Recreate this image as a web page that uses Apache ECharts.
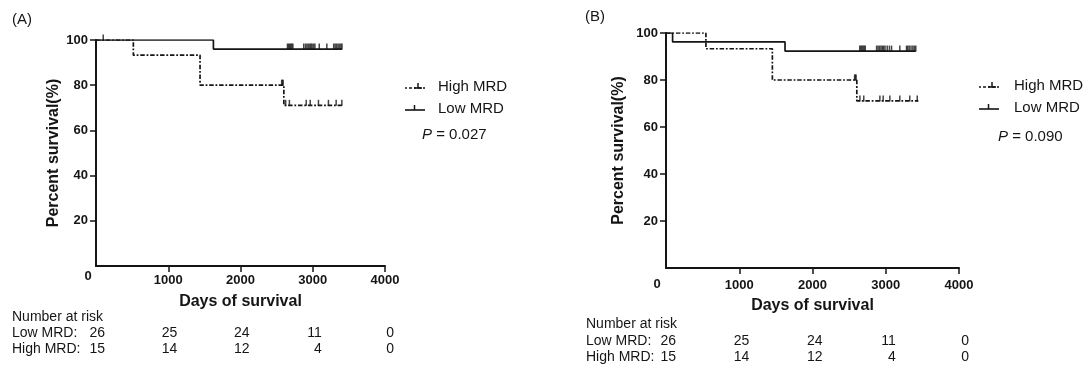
<!DOCTYPE html>
<html><head><meta charset="utf-8">
<script src="https://cdn.jsdelivr.net/npm/echarts@6/dist/echarts.min.js"></script>
<style>html,body{margin:0;padding:0;background:#fff}#c{width:1087px;height:366px}</style>
</head><body><div id="c"></div>
<script>
// ---------- data ----------
const xTicks = [0, 1000, 2000, 3000, 4000];
const yTicks = [20, 40, 60, 80, 100];
const groupNames = ['High MRD', 'Low MRD'];
const riskRowLabels = ['Low MRD:', 'High MRD:'];
const riskTitle = 'Number at risk';

// Panel A
const aLowSteps  = [[0, 100], [1625, 96.0], [3405, 96.0]];
const aLowCensor = [100, 2650, 2665, 2680, 2695, 2710, 2725, 2875, 2900, 2920, 2940, 2960, 2975, 2990,
                    3010, 3030, 3090, 3195, 3290, 3310, 3330, 3350, 3370, 3390, 3405];
const aHighSteps  = [[0, 100], [517, 93.3], [1440, 80.0], [2600, 71.1], [3403, 71.1]];
const aHighCensor = [2570, 2580, 2590, 2625, 2677, 2910, 2965, 3079, 3217, 3324, 3403];
const aRiskLow  = [26, 25, 24, 11, 0];
const aRiskHigh = [15, 14, 12, 4, 0];
const aPValue = '0.027';

// Panel B
const bLowSteps  = [[0, 100], [90, 96.2], [1625, 92.3], [3410, 92.3]];
const bLowCensor = [2645, 2660, 2675, 2690, 2705, 2720, 2875, 2895, 2915, 2935, 2955, 2970, 2990,
                    3020, 3050, 3079, 3192, 3283, 3300, 3320, 3345, 3370, 3390, 3410];
const bHighSteps  = [[0, 100], [545, 93.3], [1452, 80.0], [2605, 71.1], [3445, 71.1]];
const bHighCensor = [2575, 2585, 2595, 2647, 2700, 2920, 2965, 3056, 3192, 3328, 3430];
const bRiskLow  = [26, 25, 24, 11, 0];
const bRiskHigh = [15, 14, 12, 4, 0];
const bPValue = '0.090';

const panelLabels = ['(A)', '(B)'];
const xAxisTitle = 'Days of survival';
const yAxisTitle = 'Percent survival(%)';

// ---------- layout / style ----------
const FONT = '"Liberation Sans", Arial, Helvetica, sans-serif';
const INK = '#151515';
const DASH = [4.5, 1.8, 1.8, 1.8];
const layout = [
  {grid: {left: 96, top: 40, width: 289, height: 226}, labelMargin: 8, nameGapY: 34, nameGapX: 28,
   tagPos: [12, 20], riskDy: [50.7, 67, 83], riskLeft: 12, numDx: 9, zeroD: [-8, 10],
   legIconX: 405, legTextX: 438, legY: [87, 109], pPos: [422, 135]},
  {grid: {left: 666, top: 33, width: 293, height: 235}, labelMargin: 11, nameGapY: 39, nameGapX: 30,
   tagPos: [585, 17], riskDy: [56.3, 73, 89.3], riskLeft: 586, numDx: 10, zeroD: [-9, 16],
   legIconX: 979, legTextX: 1014, legY: [86, 108], pPos: [998, 137]}
];
const panels = [
  {low: aLowSteps, lowC: aLowCensor, high: aHighSteps, highC: aHighCensor, rLow: aRiskLow, rHigh: aRiskHigh, p: aPValue},
  {low: bLowSteps, lowC: bLowCensor, high: bHighSteps, highC: bHighCensor, rLow: bRiskLow, rHigh: bRiskHigh, p: bPValue}
];

function levelAt(steps, t) {
  let v = steps[0][1];
  for (const s of steps) { if (s[0] <= t) v = s[1]; }
  return v;
}

const grids = [], xAxes = [], yAxes = [], series = [];
layout.forEach((L, i) => {
  grids.push(Object.assign({containLabel: false}, L.grid));
  xAxes.push({
    type: 'value', gridIndex: i, min: xTicks[0], max: xTicks[xTicks.length - 1], interval: xTicks[1] - xTicks[0],
    name: xAxisTitle, nameLocation: 'middle', nameGap: L.nameGapX,
    nameTextStyle: {fontFamily: FONT, fontWeight: 'bold', fontSize: 16, color: INK},
    axisLine: {onZero: false, lineStyle: {color: INK, width: 2}},
    axisTick: {length: 6, lineStyle: {color: INK, width: 1.5}},
    axisLabel: {showMinLabel: false, margin: L.labelMargin, fontFamily: FONT, fontWeight: 'bold', fontSize: 13, color: INK,
      formatter: v => String(v)},
    splitLine: {show: false}
  });
  yAxes.push({
    type: 'value', gridIndex: i, min: 0, max: yTicks[yTicks.length - 1], interval: yTicks[1] - yTicks[0],
    name: yAxisTitle, nameLocation: 'middle', nameGap: L.nameGapY,
    nameTextStyle: {fontFamily: FONT, fontWeight: 'bold', fontSize: 16, color: INK},
    axisLine: {onZero: false, lineStyle: {color: INK, width: 2}},
    axisTick: {length: 6, lineStyle: {color: INK, width: 1.5}},
    axisLabel: {showMinLabel: false, margin: 8, fontFamily: FONT, fontWeight: 'bold', fontSize: 13, color: INK,
      formatter: v => String(v)},
    splitLine: {show: false}
  });
  const P = panels[i];
  const defs = [
    {name: groupNames[0], steps: P.high, cens: P.highC, type: DASH},
    {name: groupNames[1], steps: P.low, cens: P.lowC, type: 'solid'}
  ];
  defs.forEach(d => {
    series.push({
      type: 'line', name: d.name, xAxisIndex: i, yAxisIndex: i, step: 'end', showSymbol: false, silent: true,
      data: d.steps, lineStyle: {color: INK, width: 1.7, type: d.type}, animation: false
    });
    series.push({
      type: 'scatter', name: d.name, xAxisIndex: i, yAxisIndex: i, silent: true, animation: false,
      symbol: 'rect', symbolSize: [1.5, 6], symbolOffset: [0, -2.5],
      itemStyle: {color: INK},
      data: d.cens.map(t => [t, levelAt(d.steps, t)])
    });
  });
});

const chart = echarts.init(document.getElementById('c'), null, {renderer: 'canvas'});
chart.setOption({
  backgroundColor: '#fff', animation: false,
  grid: grids, xAxis: xAxes, yAxis: yAxes, series: series
});

// ---------- text elements placed from the axes ----------
const g = [];
function txt(x, y, s, opt) {
  g.push({type: 'text', silent: true, style: Object.assign({
    x: x, y: y, text: s, fill: INK, font: '14px ' + FONT, textAlign: 'left', textVerticalAlign: 'middle'
  }, opt || {})});
}
layout.forEach((L, i) => {
  const P = panels[i];
  const org = chart.convertToPixel({gridIndex: i}, [xTicks[0], 0]);
  txt(L.tagPos[0], L.tagPos[1], panelLabels[i], {font: '15px ' + FONT});
  txt(org[0] + L.zeroD[0], org[1] + L.zeroD[1], String(xTicks[0]), {font: 'bold 13px ' + FONT, textAlign: 'center'});
  txt(L.riskLeft, org[1] + L.riskDy[0], riskTitle);
  txt(L.riskLeft, org[1] + L.riskDy[1], riskRowLabels[0]);
  txt(L.riskLeft, org[1] + L.riskDy[2], riskRowLabels[1]);
  xTicks.forEach((t, k) => {
    const px = chart.convertToPixel({gridIndex: i}, [t, 0])[0];
    txt(px + L.numDx, org[1] + L.riskDy[1], String(P.rLow[k]), {textAlign: 'right'});
    txt(px + L.numDx, org[1] + L.riskDy[2], String(P.rHigh[k]), {textAlign: 'right'});
  });
  [0, 1].forEach(k => {
    const y = L.legY[k] + 1;
    const x0 = L.legIconX;
    g.push({type: 'line', silent: true, shape: {x1: x0, y1: y, x2: x0 + 20, y2: y},
      style: {stroke: INK, lineWidth: 1.6, lineDash: k === 0 ? [2, 2, 3, 2] : null}});
    const tx = k === 0 ? x0 + 13 : x0 + 9.5;
    g.push({type: 'line', silent: true, shape: {x1: tx, y1: y, x2: tx, y2: y - 5},
      style: {stroke: INK, lineWidth: 1.5}});
    if (k === 0) {
      g.push({type: 'line', silent: true, shape: {x1: x0 + 9, y1: y, x2: x0 + 17, y2: y},
        style: {stroke: INK, lineWidth: 1.6}});
    }
    txt(L.legTextX, L.legY[k], groupNames[k], {font: '15px ' + FONT});
  });
  g.push({type: 'text', silent: true, style: {
    x: L.pPos[0], y: L.pPos[1], text: '{i|P} = ' + P.p, fill: INK, font: '15px ' + FONT,
    textVerticalAlign: 'middle', rich: {i: {fontStyle: 'italic', fontSize: 15, fontFamily: FONT, fill: INK}}
  }});
});
chart.setOption({graphic: g});
</script></body></html>
